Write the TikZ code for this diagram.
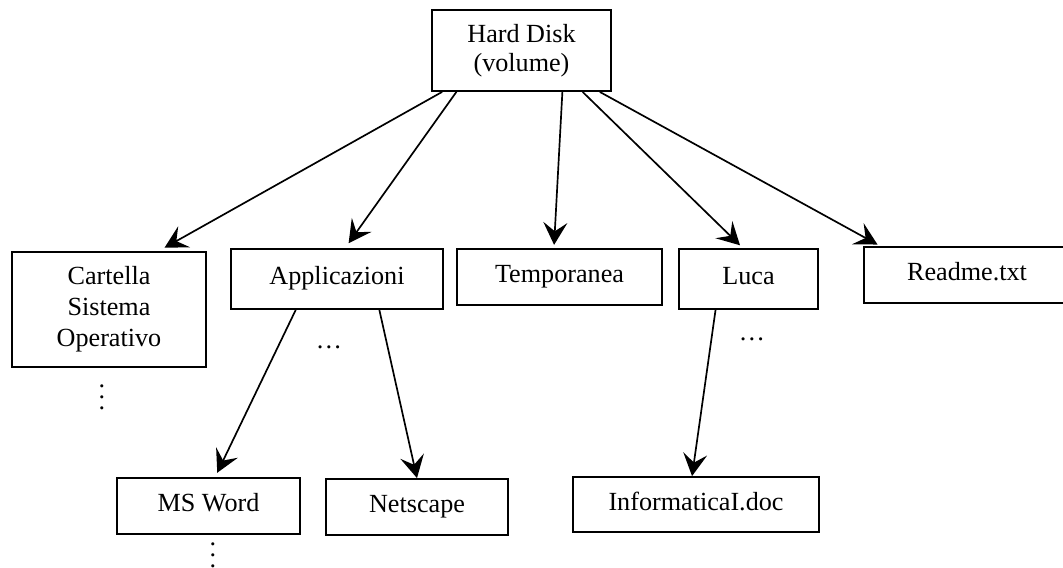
\documentclass[tikz,border=0pt]{standalone}
\usepackage{fontspec}
\setmainfont{Liberation Serif}
\usetikzlibrary{
    arrows.meta,
    calc,
}
\newcommand{\dirvdots}{\vbox{\baselineskip=7.8pt\lineskiplimit=0pt
    \hbox{.}\hbox{.}\hbox{.}}}

\begin{document}
\begin{tikzpicture}[
    x=0.025cm, y=-0.025cm,
    box/.style  = {rectangle, draw, line width=1.3pt,
                   align=center, inner sep=0pt,
                   font=\fontsize{18.6}{22}\selectfont},
    lbox/.style = {box, text height=12pt, text depth=3.5pt},
    dotsnode/.style = {inner sep=0pt, font=\fontsize{18.6}{22}\selectfont},
    arr/.style  = {-{Stealth[length=5.6mm, width=6mm, inset=2.2mm]},
                   line width=1.2pt},
]
\useasboundingbox (0,0) rectangle (1063,567);

%% ── Root ─────────────────────────────────────────────────────────────────────
\node[box, minimum width=4.475cm, minimum height=2.025cm,
      font=\fontsize{18.6}{20.6}\selectfont]
    (hd) at (521.5, 50.5) {Hard Disk\\(volume)};

%% ── First level ──────────────────────────────────────────────────────────────
\node[box,  minimum width=4.85cm,  minimum height=2.875cm]
    (cartella) at (109, 309.5)  {Cartella\\Sistema\\Operativo};
\node[lbox, minimum width=5.3cm,   minimum height=1.5cm]
    (appl)     at (337, 279)    {Applicazioni};
\node[lbox, minimum width=5.125cm, minimum height=1.4cm]
    (temp)     at (559.5, 277)  {Temporanea};
\node[lbox, minimum width=3.475cm, minimum height=1.5cm]
    (luca)     at (748.5, 279)  {Luca};
\node[lbox, minimum width=5.15cm,  minimum height=1.4cm]
    (readme)   at (967, 275)    {Readme.txt};

%% ── Second level ─────────────────────────────────────────────────────────────
\node[lbox, minimum width=4.575cm, minimum height=1.4cm]
    (msword)   at (208.5, 506)  {MS Word};
\node[lbox, minimum width=4.55cm,  minimum height=1.4cm]
    (netscape) at (417, 507)    {Netscape};
\node[lbox, minimum width=6.15cm,  minimum height=1.375cm]
    (info)     at (696, 504.5)  {InformaticaI.doc};

%% ── Ellipses ─────────────────────────────────────────────────────────────────
\node[dotsnode] (appldots) at (329, 347)  {\dots};
\node[dotsnode] (lucadots) at (752, 339)  {\dots};
\node[dotsnode] (cartdots) at (102, 397)  {\dirvdots};
\node[dotsnode] (wordots)  at (213, 555)  {\dirvdots};

%% ── Root arrows ──────────────────────────────────────────────────────────────
\draw[arr, shorten >=1.7mm]
    ($(hd.south west)!0.061!(hd.south east)$)
    -- ($(cartella.north west)!0.753!(cartella.north east)$);
\draw[arr, shorten >=1.5mm]
    ($(hd.south west)!0.14!(hd.south east)$)
    -- ($(appl.north west)!0.538!(appl.north east)$);
\draw[arr, shorten >=0.8mm]
    ($(hd.south west)!0.726!(hd.south east)$)
    -- ($(temp.north west)!0.473!(temp.north east)$);
\draw[arr, shorten >=1mm]
    ($(hd.south west)!0.838!(hd.south east)$)
    -- ($(luca.north west)!0.46!(luca.north east)$);
\draw[arr, shorten >=0.8mm]
    ($(hd.south west)!0.933!(hd.south east)$)
    -- ($(readme.north west)!0.083!(readme.north east)$);

%% ── Second level arrows ──────────────────────────────────────────────────────
\draw[arr, shorten >=1.2mm]
    ($(appl.south west)!0.307!(appl.south east)$)
    -- ($(msword.north west)!0.536!(msword.north east)$);
\draw[arr]
    ($(appl.south west)!0.698!(appl.south east)$)
    -- ($(netscape.north west)!0.5!(netscape.north east)$);
\draw[arr]
    ($(luca.south west)!0.266!(luca.south east)$)
    -- ($(info.north west)!0.484!(info.north east)$);

\end{tikzpicture}
\end{document}
